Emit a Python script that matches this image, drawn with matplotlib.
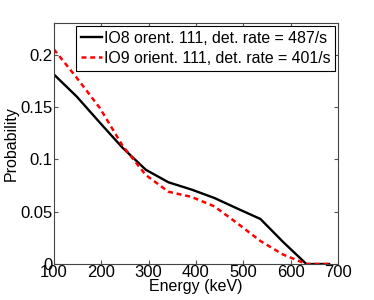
import matplotlib
matplotlib.use("Agg")
import matplotlib.pyplot as plt

plt.rcParams['font.family'] = ['Liberation Sans', 'DejaVu Sans']

energy = [100, 148, 197, 245, 294, 342, 391, 439, 487, 536, 584, 633, 681]
io8 = [0.181, 0.160, 0.135, 0.111, 0.090, 0.078, 0.071, 0.063, 0.053, 0.043, 0.021, 0.0, 0.0]
io9 = [0.205, 0.178, 0.149, 0.113, 0.085, 0.069, 0.064, 0.055, 0.039, 0.022, 0.009, 0.0, 0.0]

label8 = "IO8 orent. 111, det. rate = 487/s"
label9 = "IO9 orient. 111, det. rate = 401/s"

fig = plt.figure(figsize=(3.74, 3.0), dpi=100)
ax = fig.add_axes([0.144, 0.12, 0.76, 0.803])

ax.plot(energy, io8, color='black', lw=1.7, label=label8)
ax.plot(energy, io9, color='red', lw=1.8, ls=(0, (2, 1.5)), label=label9)

ax.set_xlim(100, 700)
ax.set_ylim(0, 0.23)
ax.set_xticks([100, 200, 300, 400, 500, 600, 700])
ax.set_yticks([0, 0.05, 0.1, 0.15, 0.2])
ax.set_yticklabels(["0", "0.05", "0.1", "0.15", "0.2"])
ax.tick_params(direction='in', top=True, right=True, labelsize=12, length=3,
               color='#555555', pad=1)
for s in ax.spines.values():
    s.set_color('#444444')
    s.set_linewidth(0.8)

ax.set_xlabel("Energy (keV)", fontsize=11.5, labelpad=-1)
ax.set_ylabel("Probability", fontsize=11.5, labelpad=1)

leg = ax.legend(loc='upper right', fontsize=11.4, handlelength=1.35, handletextpad=0.1,
                borderpad=0.3, labelspacing=0.3, borderaxespad=0.2, fancybox=False,
                framealpha=1)
leg.get_frame().set_edgecolor('black')
leg.get_frame().set_linewidth(0.8)

fig.savefig("out.png", dpi=100)
